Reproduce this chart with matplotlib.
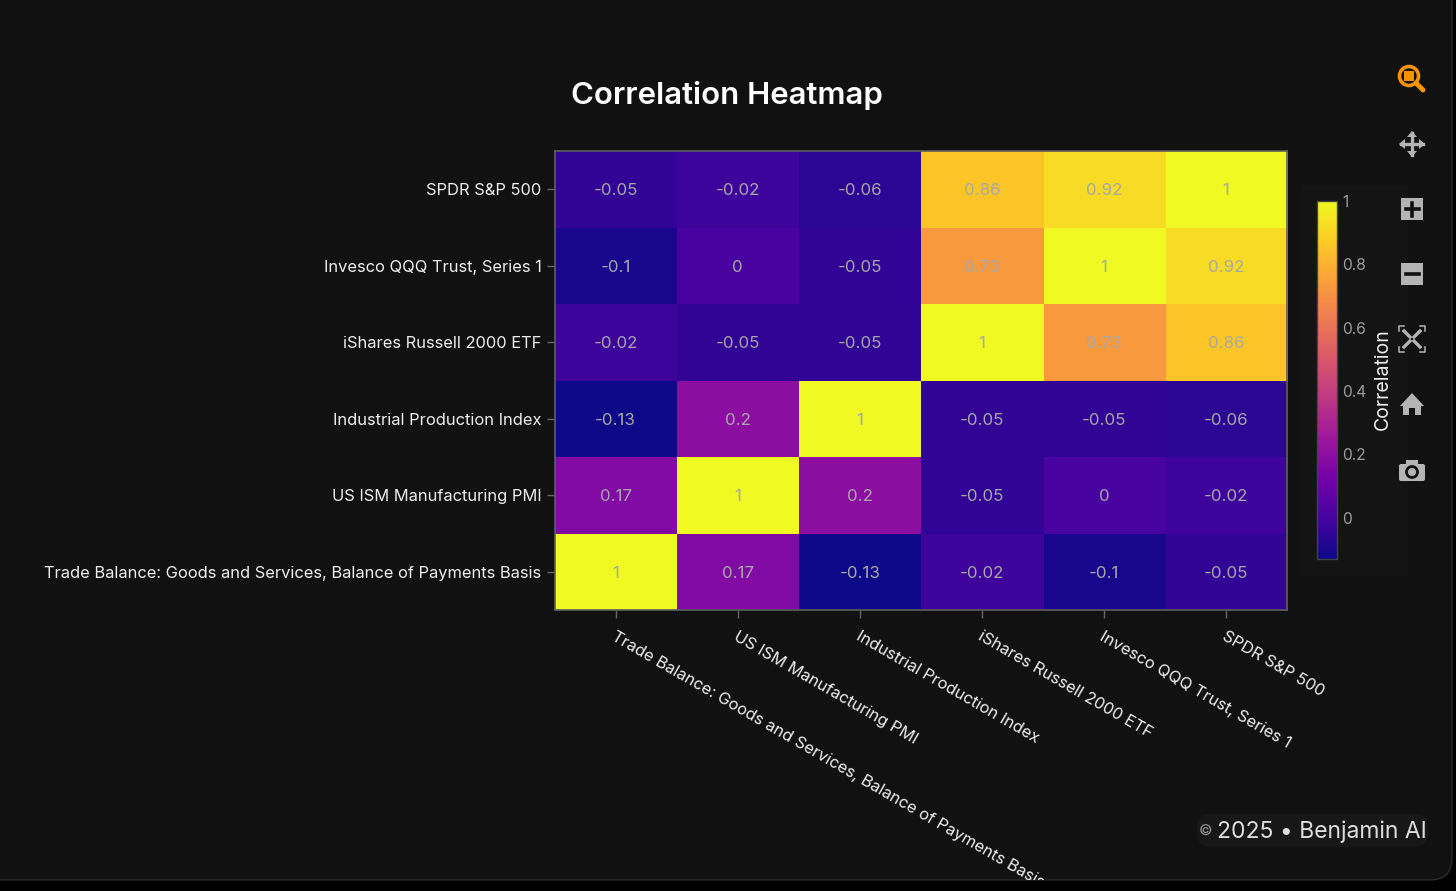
import numpy as np
import matplotlib
matplotlib.use("Agg")
import matplotlib.pyplot as plt
from matplotlib.colors import LinearSegmentedColormap
from matplotlib.patches import Circle, FancyBboxPatch, Polygon, Rectangle
from matplotlib.transforms import Bbox, ScaledTranslation

plt.rcParams['font.family'] = ['Inter', 'DejaVu Sans']

W, H = 1456, 891

# bottom row first, same order as the x axis
labels = ['Trade Balance: Goods and Services, Balance of Payments Basis',
          'US ISM Manufacturing PMI',
          'Industrial Production Index',
          'iShares Russell 2000 ETF',
          'Invesco QQQ Trust, Series 1',
          'SPDR S&P 500']
row_trade = [1, 0.17, -0.13, -0.02, -0.1, -0.05]
row_ism = [0.17, 1, 0.2, -0.05, 0, -0.02]
row_indpro = [-0.13, 0.2, 1, -0.05, -0.05, -0.06]
row_iwm = [-0.02, -0.05, -0.05, 1, 0.73, 0.86]
row_qqq = [-0.1, 0, -0.05, 0.73, 1, 0.92]
row_spy = [-0.05, -0.02, -0.06, 0.86, 0.92, 1]
colorbar_ticks = [0, 0.2, 0.4, 0.6, 0.8, 1]
plasma_stops = ['#0d0887', '#46039f', '#7201a8', '#9c179e', '#bd3786',
                '#d8576b', '#ed7953', '#fb9f3a', '#fdca26', '#f0f921']

corr = np.array([row_trade, row_ism, row_indpro, row_iwm, row_qqq, row_spy])
cmap = LinearSegmentedColormap.from_list('plotly_plasma', plasma_stops)


def px_axes(fig, x0, y0, x1, y1, **kw):
    # axes from pixel box, y measured from the top
    return fig.add_axes([x0 / W, 1 - y1 / H, (x1 - x0) / W, (y1 - y0) / H], **kw)


fig = plt.figure(figsize=(W / 100, H / 100), dpi=100, facecolor='black')

# background layer in pixel coordinates
bg = px_axes(fig, 0, 0, W, H, zorder=0)
bg.set_xlim(0, W)
bg.set_ylim(H, 0)
bg.axis('off')
bg.add_patch(FancyBboxPatch((-30, -30), 1482, 910, boxstyle='round,pad=0,rounding_size=22',
                            fc='#111112', ec='#2b2b2c', lw=1))
bg.add_patch(Rectangle((1301, 185), 107, 391, fc='#141415', ec='none'))
bg.add_patch(FancyBboxPatch((1197, 814), 231, 33, boxstyle='round,pad=0,rounding_size=14',
                            fc='#171718', ec='none'))
bg.text(1198.5, 832, '©', color='#9a9a9a', fontsize=10.5, va='center', ha='left')
bg.text(1217, 831.5, '2025 • Benjamin AI', color='#dedede', fontsize=16.5, va='center', ha='left')
bg.text(726.5, 95, 'Correlation Heatmap', color='white', fontsize=22.4, fontweight='semibold',
        va='center', ha='center')

# heatmap
ax = px_axes(fig, 554.5, 151, 1287, 610, zorder=1)
im = ax.imshow(corr, cmap=cmap, vmin=-0.13, vmax=1, origin='lower', aspect='auto')
ax.set_xticks(range(len(labels)))
ax.set_yticks(range(len(labels)))
ax.set_yticklabels(labels, color='#eeeeee', fontsize=11.85)
xt = ax.set_xticklabels(labels, color='#eeeeee', fontsize=11.85, rotation=-30,
                        ha='left', va='top', rotation_mode='anchor')
ax.tick_params(axis='y', length=5.8, width=1, color='#666666', pad=3.6)
ax.tick_params(axis='x', length=5.8, width=1, color='#666666', pad=7.6)
for s in ax.spines.values():
    s.set_color('#5e5e5e')
    s.set_linewidth(1.2)
# long rotated label is cut by the panel edge
clip = Bbox([[0, 11], [W, H]])
nudge = ScaledTranslation(1 / 100, 0, fig.dpi_scale_trans)
for t in xt:
    t.set_transform(t.get_transform() + nudge)
    t.set_clip_box(clip)
    t.set_clip_on(True)
for i in range(corr.shape[0]):
    for j in range(corr.shape[1]):
        ax.text(j, i, f'{corr[i, j]:g}', color='#a8a8a8', fontsize=12.2, ha='center', va='center_baseline')

# colorbar
cax = px_axes(fig, 1317, 201, 1337, 559, zorder=1)
cb = fig.colorbar(im, cax=cax)
cb.set_ticks(colorbar_ticks)
cb.set_ticklabels([f'{v:g}' for v in colorbar_ticks])
cb.ax.tick_params(length=0, pad=4, labelcolor='#9c9c9c', labelsize=11.2)
cb.outline.set_edgecolor('#444444')
cb.outline.set_linewidth(1)
for lab in cb.ax.get_yticklabels():
    lab.set_verticalalignment('center_baseline')
bg.text(1383, 379, 'Correlation', color='#eeeeee', fontsize=14, rotation=90, va='center', ha='center')

# toolbar icons
top = px_axes(fig, 0, 0, W, H, zorder=2)
top.set_xlim(0, W)
top.set_ylim(H, 0)
top.axis('off')
gray = '#b4b4b4'
orange = '#f59300'

# zoom (active)
top.add_patch(Circle((1409, 76), 9.5, fc='none', ec=orange, lw=2.6))
top.add_patch(Rectangle((1404, 71), 10, 10, fc=orange, ec='none'))
top.plot([1416, 1423], [83, 90], color=orange, lw=3.5, solid_capstyle='round')

# pan
top.plot([1401, 1423], [144, 144], color=gray, lw=2.4)
top.plot([1412, 1412], [133, 155], color=gray, lw=2.4)
for tri in ([(1399, 144), (1405, 139), (1405, 149)], [(1425, 144), (1419, 139), (1419, 149)],
            [(1412, 131), (1407, 137), (1417, 137)], [(1412, 157), (1407, 151), (1417, 151)]):
    top.add_patch(Polygon(tri, fc=gray, ec='none'))

# zoom in / zoom out
top.add_patch(Rectangle((1401, 198), 22, 22, fc=gray, ec='none'))
top.plot([1405.5, 1418.5], [209, 209], color='#111112', lw=2.6)
top.plot([1412, 1412], [202.5, 215.5], color='#111112', lw=2.6)
top.add_patch(Rectangle((1401, 263), 22, 22, fc=gray, ec='none'))
top.plot([1405.5, 1418.5], [274, 274], color='#111112', lw=2.6)

# autoscale
for sx, sy in ((-1, -1), (1, -1), (-1, 1), (1, 1)):
    cx, cy = 1412 + sx * 13, 339 + sy * 13
    top.plot([cx - sx * 5, cx, cx], [cy, cy, cy - sy * 5], color=gray, lw=1.1)
    top.plot([1412 + sx * 2, 1412 + sx * 8], [339 + sy * 2, 339 + sy * 8], color=gray, lw=2.4)

# home
top.add_patch(Polygon([(1400, 406), (1412, 393), (1424, 406), (1421, 406), (1421, 415), (1415, 415),
                       (1415, 408), (1409, 408), (1409, 415), (1403, 415), (1403, 406)],
                      fc=gray, ec='none'))

# camera
top.add_patch(FancyBboxPatch((1399, 464), 26, 17, boxstyle='round,pad=0,rounding_size=2', fc=gray, ec='none'))
top.add_patch(Rectangle((1406, 460), 12, 5, fc=gray, ec='none'))
top.add_patch(Circle((1412, 472), 5.5, fc=gray, ec='#111112', lw=2))

fig.savefig('out.png', dpi=100, facecolor=fig.get_facecolor())
